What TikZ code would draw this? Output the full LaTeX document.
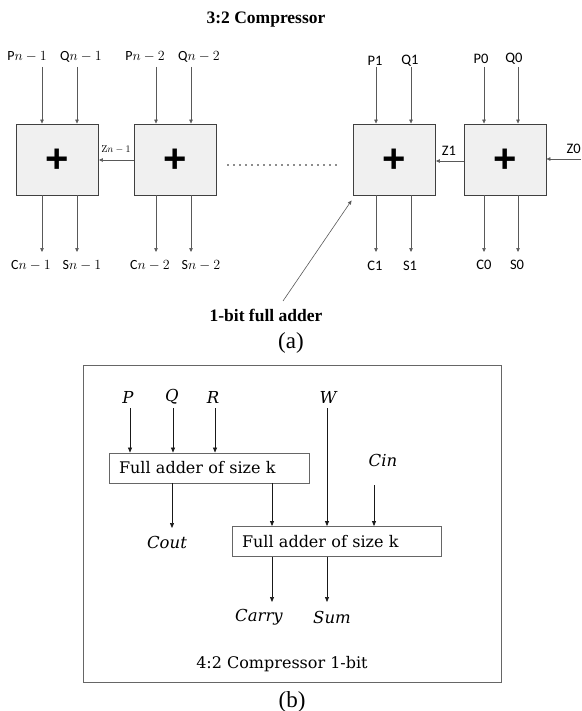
\RequirePackage{fix-cm}
\documentclass[tikz,border=0pt]{standalone}
\usepackage{fontspec}
\usetikzlibrary{arrows.meta,calc}
\newfontfamily\timesf{Liberation Serif}
\newfontfamily\calib{Carlito}
\newfontfamily\plusf{Liberation Sans}
\newfontfamily\camb{DejaVu Serif}
\tikzset{
  addbox/.style={draw=black!75, fill=black!6, line width=0.9pt, minimum width=82pt, minimum height=71pt, inner sep=0pt},
  plussign/.style={inner sep=0pt, font=\plusf\bfseries\fontsize{40}{40}\selectfont},
  arr/.style={draw=black!65, line width=0.6pt, -{Triangle[length=4pt,width=3.5pt]}},
  barr/.style={draw=black!90, line width=0.7pt, -{Triangle[length=5pt,width=4pt]}},
  lab/.style={inner sep=2pt, font=\calib\fontsize{14}{16}\selectfont},
  rlab/.style={inner sep=2pt, font=\calib\fontsize{14.5}{16}\selectfont},
  zsmall/.style={inner sep=0pt, font=\fontsize{10}{12}\selectfont},
  headtext/.style={inner sep=0pt, font=\timesf\bfseries\fontsize{17.5}{20}\selectfont},
  captext/.style={inner sep=0pt, font=\timesf\fontsize{23}{26}\selectfont},
  fabox/.style={draw=black!60, line width=0.9pt, minimum height=30pt, inner xsep=10pt, inner ysep=0pt, align=left, font=\camb\fontsize{16}{19}\selectfont},
  mlab/.style={inner sep=0pt, font=\camb\itshape\fontsize{16.5}{19}\selectfont},
  frametext/.style={inner sep=0pt, font=\camb\fontsize{16}{19}\selectfont},
  dots/.style={line width=1.8pt, line cap=round, dash pattern=on 0pt off 6pt, draw=black!90},
}
\begin{document}
\begin{tikzpicture}[x=1pt,y=-1pt]
\useasboundingbox (0,0) rectangle (581,711);
\fill[white] (0,0) rectangle (581,711);

% ---------- (a) ----------
\node[headtext] (title) at (266,20) {3:2 Compressor};

\node[addbox] (B1) at (57.5,159.5) {};
\node[addbox] (B2) at (175.5,159.5) {};
\node[addbox] (B3) at (394.5,159.5) {};
\node[addbox] (B4) at (505,159.5) {};
\node[plussign] (p1) at (57.5,161) {+};
\node[plussign] (p2) at (175.5,161) {+};
\node[plussign] (p3) at (394.5,161) {+};
\node[plussign] (p4) at (505,161) {+};

% input labels
\node[lab] (Pa) at (27,57) {P$n-1$};
\node[lab] (Qa) at (81,57) {Q$n-1$};
\node[lab] (Pb) at (145,57) {P$n-2$};
\node[lab] (Qb) at (199,57) {Q$n-2$};
\node[rlab] (Pc) at (375,61) {P1};
\node[rlab] (Qc) at (410,61) {Q1};
\node[rlab] (Pd) at (481,59) {P0};
\node[rlab] (Qd) at (514,59) {Q0};

\coordinate (xa1) at (42,67);  \coordinate (xa2) at (77,67);
\coordinate (xb1) at (156,67); \coordinate (xb2) at (191,67);
\coordinate (xc1) at (376,67); \coordinate (xc2) at (411,67);
\coordinate (xd1) at (484,67); \coordinate (xd2) at (518,67);

\foreach \c/\b in {xa1/B1,xa2/B1,xb1/B2,xb2/B2,xc1/B3,xc2/B3,xd1/B4,xd2/B4}{
  \draw[arr] (\c) -- (\c |- \b.north);
}

% output labels
\node[lab] (Ca) at (31,266) {C$n-1$};
\node[lab] (Sa) at (82,266) {S$n-1$};
\node[lab] (Cb) at (150,266) {C$n-2$};
\node[lab] (Sb) at (201,266) {S$n-2$};
\node[rlab] (Cc) at (375,266) {C1};
\node[rlab] (Sc) at (410,266) {S1};
\node[rlab] (Cd) at (484,265) {C0};
\node[rlab] (Sd) at (517,265) {S0};

\coordinate (ya1) at (42,252);  \coordinate (ya2) at (77,252);
\coordinate (yb1) at (156,252); \coordinate (yb2) at (191,252);
\coordinate (yc1) at (376,252); \coordinate (yc2) at (411,252);
\coordinate (yd1) at (484,252); \coordinate (yd2) at (518,252);
\foreach \c/\b in {ya1/B1,ya2/B1,yb1/B2,yb2/B2,yc1/B3,yc2/B3,yd1/B4,yd2/B4}{
  \draw[arr] (\c |- \b.south) -- (\c);
}

% carries
\draw[arr] ([yshift=-0.5pt]B2.west) -- ([yshift=-0.5pt]B1.east);
\node[zsmall] (zn) at (116,150) {Z$n-1$};
\draw[arr] ([yshift=-1.5pt]B4.west) -- ([yshift=-1.5pt]B3.east);
\node[rlab, inner sep=0pt] (z1) at (449,151) {Z1};
\coordinate (z0s) at (581,159);
\draw[arr] (z0s) -- (z0s -| B4.east);
\node[rlab, inner sep=0pt, anchor=east] (z0) at (581,149) {Z0};

% dotted continuation
\coordinate (d1) at (228,165);
\coordinate (d2) at (340,165);
\draw[dots] (d1) -- (d2);

% pointer
\node[headtext] (fal) at (266,315) {1-bit full adder};
\coordinate (pt) at (283,301);
\draw[arr] (pt) -- ($(B3.south west)+(-1.5,5)$);

\node[captext] (capa) at (291,343) {(a)};

% ---------- (b) ----------
\node[draw=black!60, line width=0.9pt, minimum width=418pt, minimum height=317pt, inner sep=0pt] (frame) at (292,523.5) {};

\node[fabox, text width=180pt] (FA) at (209,468) {Full adder of size k};
\node[fabox, text width=189pt] (FB) at (336.5,541.5) {Full adder of size k};

\node[mlab] (P) at (128,397) {P};
\node[mlab] (Q) at (172,397) {Q};
\node[mlab] (R) at (213,397) {R};
\node[mlab] (W) at (328,397) {W};
\node[mlab] (Cin) at (383,460) {Cin};

\coordinate (pP) at (130,408);
\coordinate (pQ) at (173,408);
\coordinate (pR) at (215,408);
\coordinate (pW) at (327,408);
\coordinate (pC) at (374,485);
\foreach \c in {pP,pQ,pR}{ \draw[barr] (\c) -- (\c |- FA.north); }
\draw[barr] (pW) -- (pW |- FB.north);
\draw[barr] (pC) -- (pC |- FB.north);

\coordinate (co) at (172,528);
\draw[barr] (co |- FA.south) -- (co);
\node[mlab] (Cout) at (167,542) {Cout};

\coordinate (ab) at (272,500);
\draw[barr] (ab |- FA.south) -- (ab |- FB.north);

\coordinate (cy) at (272,602);
\coordinate (sm) at (327,602);
\draw[barr] (cy |- FB.south) -- (cy);
\draw[barr] (sm |- FB.south) -- (sm);
\node[mlab] (Carry) at (259,617) {Carry};
\node[mlab] (Sum) at (332,617) {Sum};

\node[frametext] (ftxt) at (282,664) {4:2 Compressor 1-bit};

\node[captext] (capb) at (292,702) {(b)};
\end{tikzpicture}
\end{document}
